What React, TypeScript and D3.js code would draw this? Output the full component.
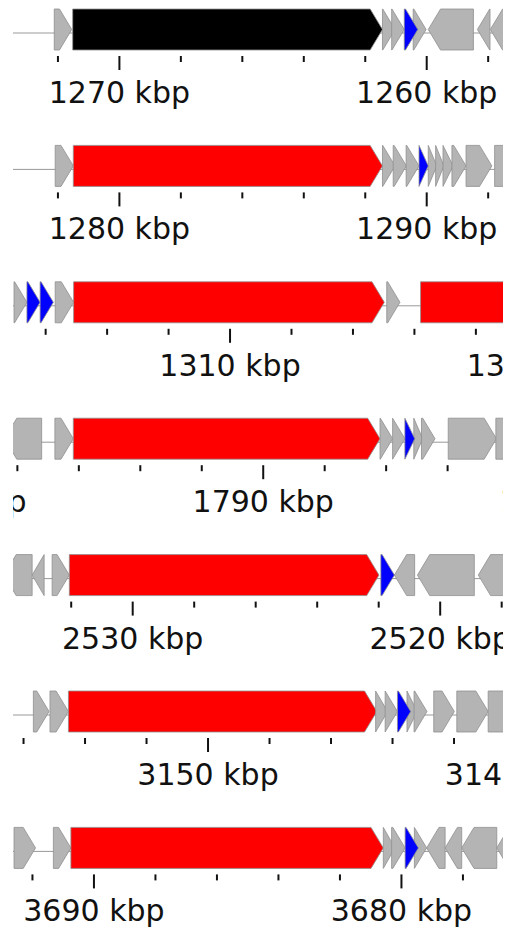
import React from 'react';
import * as d3 from 'd3';

// gene neighbourhood panels, positions in kbp
// each panel: [view start, view end] (start > end means the panel is drawn reversed)
const viewStart = [1273.43, 1276.57, 1302.97, 1781.89, 2533.86, 3156.31, 3692.6];
const viewEnd = [1257.55, 1292.45, 1318.85, 1797.77, 2517.99, 3140.44, 3676.73];

// [start, end, strand, kind]
type Gene = [number, number, number, string];

const track1Genes: Gene[] = [
  [1271.55, 1272.12, -1, 'gray'],
  [1261.44, 1271.52, -1, 'black'],
  [1261.03, 1261.44, -1, 'gray'],
  [1260.73, 1261.14, -1, 'gray'],
  [1260.02, 1260.44, -1, 'gray'],
  [1260.29, 1260.73, -1, 'blue'],
  [1258.48, 1259.95, 1, 'gray'],
  [1257.94, 1258.35, 1, 'gray'],
  [1257.0, 1257.93, 1, 'gray'],
];

const track2Genes: Gene[] = [
  [1277.91, 1278.5, 1, 'gray'],
  [1278.5, 1288.56, 1, 'red'],
  [1288.56, 1288.97, 1, 'gray'],
  [1288.91, 1289.34, 1, 'gray'],
  [1289.33, 1289.75, 1, 'gray'],
  [1289.75, 1290.05, 1, 'blue'],
  [1290.05, 1290.33, 1, 'gray'],
  [1290.29, 1290.56, 1, 'gray'],
  [1290.53, 1290.86, 1, 'gray'],
  [1290.82, 1291.28, 1, 'gray'],
  [1291.28, 1292.12, 1, 'gray'],
  [1292.21, 1293.0, 1, 'gray'],
];

const track3Genes: Gene[] = [
  [1302.97, 1303.39, 1, 'gray'],
  [1303.39, 1303.82, 1, 'blue'],
  [1303.82, 1304.25, 1, 'blue'],
  [1304.31, 1304.91, 1, 'gray'],
  [1304.91, 1315.02, 1, 'red'],
  [1315.1, 1315.53, 1, 'gray'],
  [1316.2, 1320.5, 1, 'red'],
];

const track4Genes: Gene[] = [
  [1781.58, 1782.79, -1, 'gray'],
  [1783.22, 1783.82, 1, 'gray'],
  [1783.82, 1793.8, 1, 'red'],
  [1793.8, 1794.21, 1, 'gray'],
  [1794.21, 1794.61, 1, 'gray'],
  [1794.9, 1795.19, 1, 'gray'],
  [1794.61, 1794.93, 1, 'blue'],
  [1795.15, 1795.59, 1, 'gray'],
  [1796.02, 1797.59, 1, 'gray'],
  [1797.57, 1798.5, 1, 'gray'],
];

const track5Genes: Gene[] = [
  [2533.27, 2534.19, 1, 'gray'],
  [2532.88, 2533.27, 1, 'gray'],
  [2532.06, 2532.62, -1, 'gray'],
  [2521.99, 2532.06, -1, 'red'],
  [2521.49, 2521.93, -1, 'blue'],
  [2520.83, 2521.49, 1, 'gray'],
  [2518.89, 2520.74, 1, 'gray'],
  [2517.0, 2518.76, 1, 'gray'],
];

const track6Genes: Gene[] = [
  [3155.17, 3155.68, -1, 'gray'],
  [3154.54, 3155.14, -1, 'gray'],
  [3144.51, 3154.54, -1, 'red'],
  [3144.16, 3144.55, -1, 'gray'],
  [3143.84, 3144.24, -1, 'gray'],
  [3143.2, 3143.53, -1, 'gray'],
  [3143.41, 3143.84, -1, 'blue'],
  [3142.88, 3143.3, -1, 'gray'],
  [3141.99, 3142.66, -1, 'gray'],
  [3140.89, 3141.91, -1, 'gray'],
  [3139.9, 3140.89, -1, 'gray'],
];

const track7Genes: Gene[] = [
  [3691.9, 3692.6, -1, 'gray'],
  [3690.75, 3691.32, -1, 'gray'],
  [3680.59, 3690.75, -1, 'red'],
  [3680.21, 3680.59, -1, 'gray'],
  [3679.88, 3680.32, -1, 'gray'],
  [3679.18, 3679.58, -1, 'gray'],
  [3679.45, 3679.88, -1, 'blue'],
  [3678.58, 3679.18, 1, 'gray'],
  [3678.04, 3678.58, 1, 'gray'],
  [3676.9, 3678.04, 1, 'gray'],
  [3676.3, 3676.9, 1, 'gray'],
];

const tracks = [track1Genes, track2Genes, track3Genes, track4Genes, track5Genes, track6Genes, track7Genes];

const fills: Record<string, string> = {
  gray: '#b4b4b4',
  red: '#ff0000',
  blue: '#0000ff',
  black: '#000000',
};

const W = 505;
const H = 928;
const TOP0 = 9;
const STEP = 136.4;
const GENE_H = 41;
const HEAD = 12.3;

function arrow(x0: number, x1: number, dir: number, top: number) {
  const bot = top + GENE_H;
  const cy = top + GENE_H / 2;
  const h = Math.min(HEAD, x1 - x0);
  const pts =
    dir > 0
      ? [[x0, top], [x1 - h, top], [x1, cy], [x1 - h, bot], [x0, bot]]
      : [[x1, top], [x0 + h, top], [x0, cy], [x0 + h, bot], [x1, bot]];
  return pts.map(p => p.join(',')).join(' ');
}

export default function App() {
  return (
    <svg
      width={W}
      height={H}
      style={{ position: 'absolute', left: 0, top: 0 }}
      fontFamily="DejaVu Sans"
    >
      <defs>
        <clipPath id="panel-clip">
          <rect x={13} y={0} width={490} height={H} />
        </clipPath>
      </defs>
      <rect width={W} height={H} fill="#fff" />
      <g clipPath="url(#panel-clip)">
        {tracks.map((genes, i) => {
          const top = TOP0 + i * STEP;
          const x = d3.scaleLinear().domain([viewStart[i], viewEnd[i]]).range([14, 502]);
          const flip = viewStart[i] > viewEnd[i] ? -1 : 1;
          const lo = Math.min(viewStart[i], viewEnd[i]);
          const hi = Math.max(viewStart[i], viewEnd[i]);
          const ticks = d3.range(Math.ceil((lo - 4) / 2) * 2, hi + 4, 2);
          const ordered = [...genes].sort((a, b) => (a[3] === 'blue' ? 1 : 0) - (b[3] === 'blue' ? 1 : 0));
          return (
            <g key={i}>
              <line x1={0} x2={W} y1={top + 24} y2={top + 24} stroke="#999" strokeWidth={1} />
              {ordered.map((g, j) => {
                const xa = x(g[0]);
                const xb = x(g[1]);
                return (
                  <polygon
                    key={j}
                    points={arrow(Math.min(xa, xb), Math.max(xa, xb), g[2] * flip, top)}
                    fill={fills[g[3]]}
                    stroke="#8f8f8f"
                    strokeWidth={0.8}
                  />
                );
              })}
              {ticks.map(t => {
                const major = Math.round(t) % 10 === 0;
                return (
                  <g key={t} transform={`translate(${x(t)},0)`}>
                    <line
                      y1={top + 47}
                      y2={top + (major ? 61 : 53)}
                      stroke="#111"
                      strokeWidth={2}
                    />
                    {major && (
                      <text y={top + 94} textAnchor="middle" fontSize={30} fill="#111">
                        {`${t} kbp`}
                      </text>
                    )}
                  </g>
                );
              })}
            </g>
          );
        })}
      </g>
    </svg>
  );
}
